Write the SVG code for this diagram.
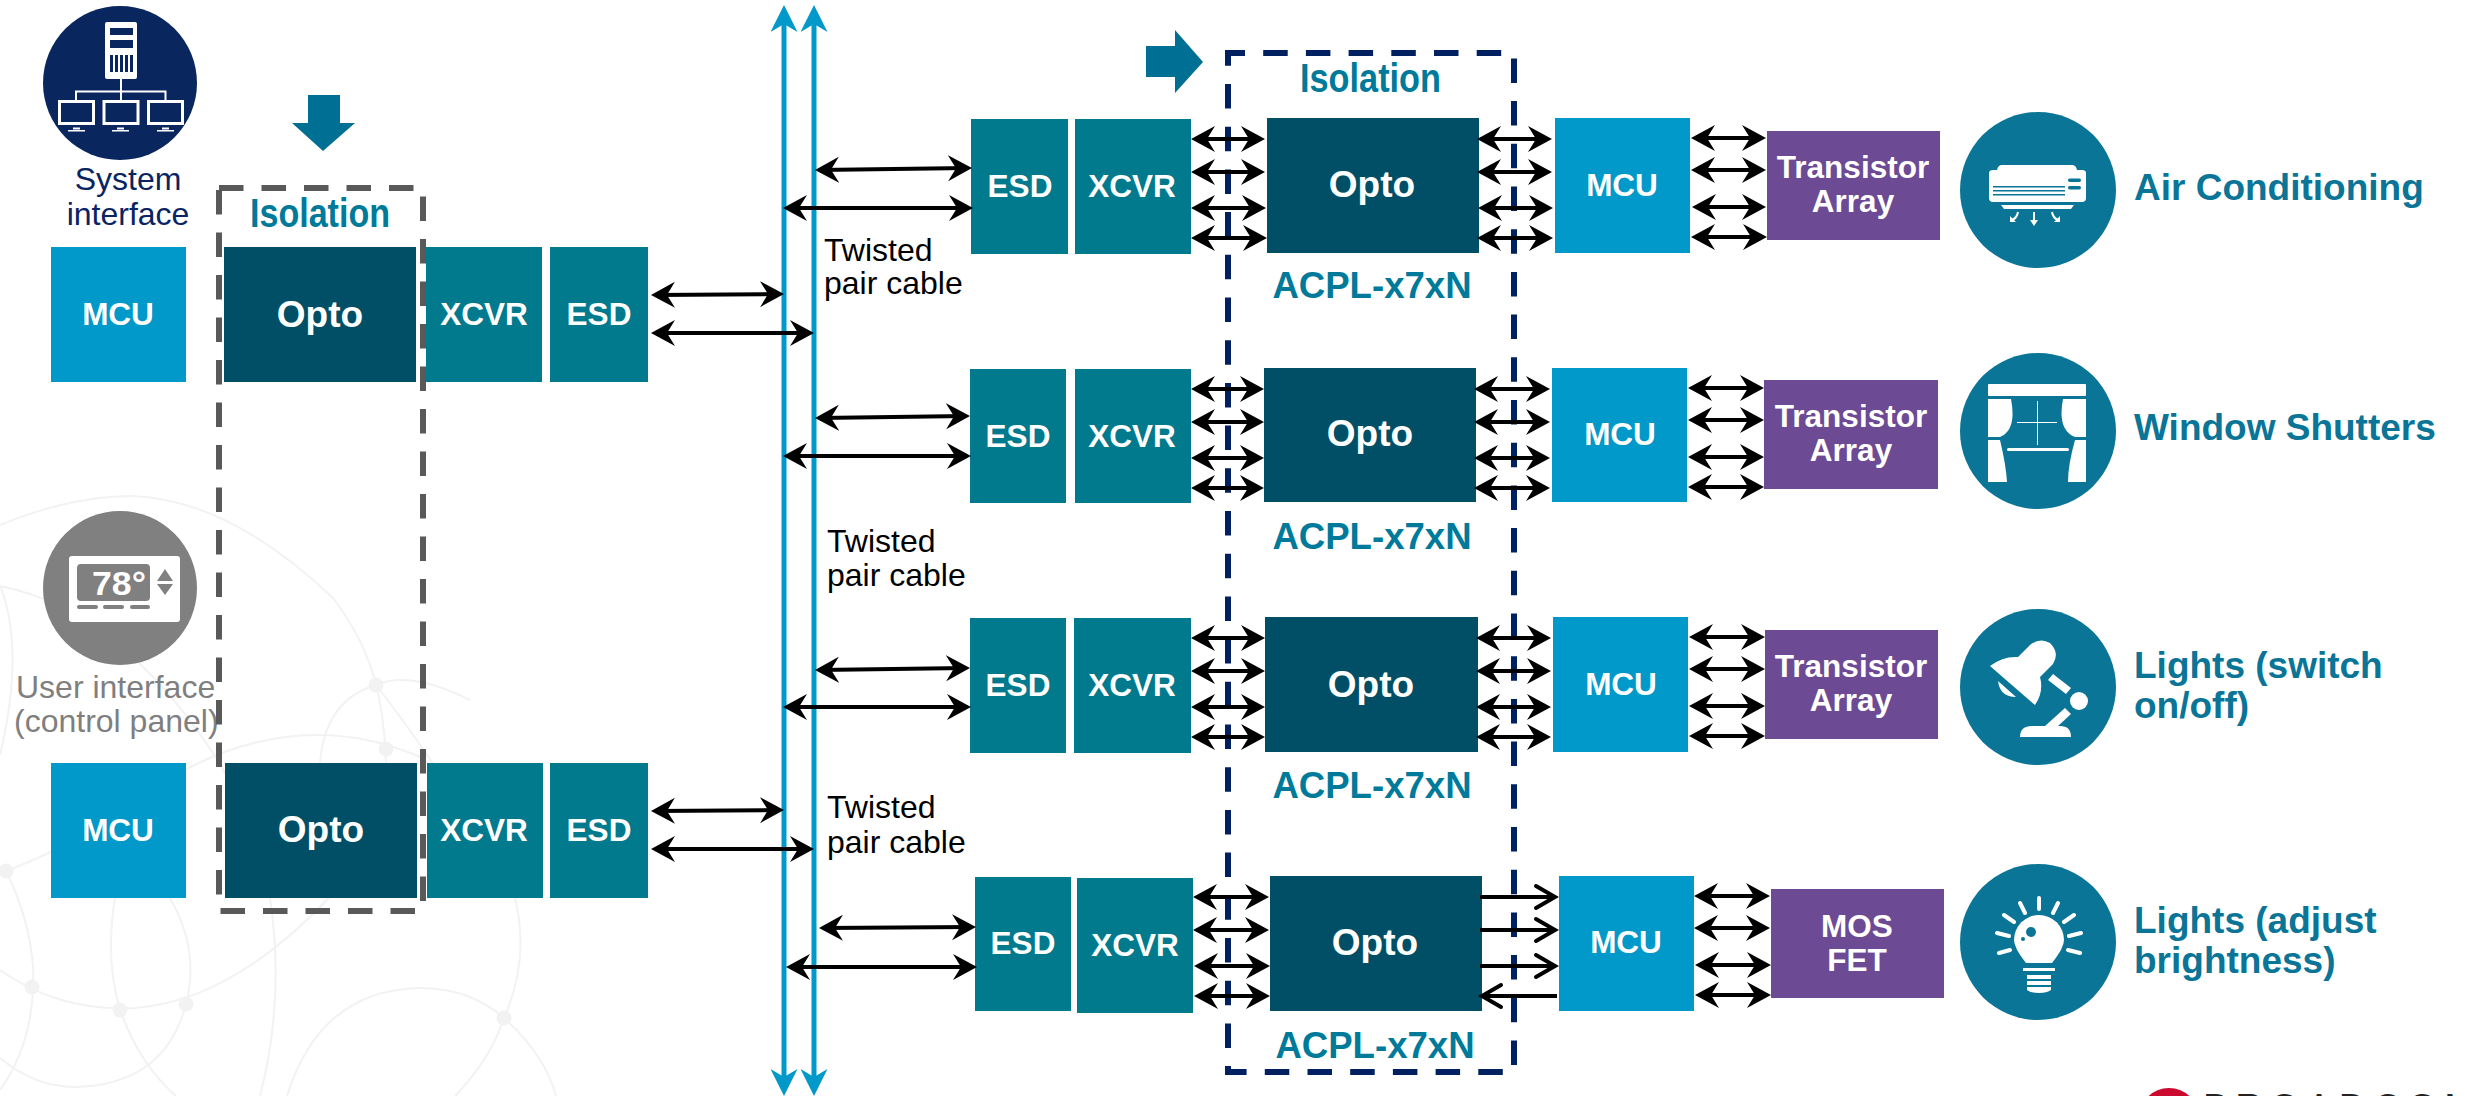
<svg xmlns="http://www.w3.org/2000/svg" width="2465" height="1096" viewBox="0 0 2465 1096">
<style>
text{font-family:"Liberation Sans",Arial,sans-serif}
.n{font-weight:700;fill:#fff;text-anchor:middle;font-size:31.5px}
.op{font-size:37px}
.mcu{fill:#0099c9}.tl{fill:#007a8c}.dk{fill:#004f66}.pu{fill:#6c4a94}
.hd{font-weight:700;fill:#0a7597;font-size:37px}
.ac{font-weight:700;fill:#007a9a;font-size:36.6px;text-anchor:middle}
.iso{font-weight:700;fill:#007a9a;font-size:40px}
.tw{fill:#000;font-size:32px}
.a{stroke:#000;stroke-width:4;fill:none;marker-start:url(#h);marker-end:url(#h)}
.o{stroke:#000;stroke-width:4;fill:none;marker-end:url(#v)}
.bus{stroke:#0099c9;stroke-width:5;fill:none;marker-start:url(#b);marker-end:url(#b)}
.bg{fill:none;stroke:#f2f2f2;stroke-width:2}
.ic{fill:#fff}
.ray{stroke:#fff;stroke-width:4;stroke-linecap:round;fill:none}
</style>
<defs>
<marker id="h" markerUnits="userSpaceOnUse" markerWidth="24" markerHeight="28" refX="20" refY="14" orient="auto-start-reverse"><path d="M24,14L0,1L8,14L0,27Z" fill="#000"/></marker>
<marker id="v" markerUnits="userSpaceOnUse" markerWidth="26" markerHeight="30" refX="22" refY="14" orient="auto"><path d="M3,3L22,14L3,25" fill="none" stroke="#000" stroke-width="4" stroke-linecap="round" stroke-linejoin="miter"/></marker>
<marker id="b" markerUnits="userSpaceOnUse" markerWidth="27" markerHeight="27" refX="20" refY="13.5" orient="auto-start-reverse"><path d="M27,13.5L0,0L8,13.5L0,27Z" fill="#0099c9"/></marker>
</defs>
<rect width="2465" height="1096" fill="#fff"/>
<g id="background">
<path class="bg" d="M0,525Q70,496 133,496Q230,500 333,598Q365,640 376,685Q450,780 515,898Q530,960 504,1018Q490,1060 455,1096"/>
<path class="bg" d="M376,685Q384,715 386,763M320,763Q325,700 376,685Q410,670 470,700"/>
<path class="bg" d="M6,871Q90,840 185,770Q250,735 317,735Q370,735 420,757"/>
<path class="bg" d="M0,586Q120,610 217,759Q260,830 270,898Q285,1000 260,1096"/>
<path class="bg" d="M0,585Q25,650 0,755"/>
<path class="bg" d="M6,871Q30,920 33,967Q36,1040 0,1090"/>
<path class="bg" d="M0,970Q60,1012 135,1008Q240,1000 345,880"/>
<path class="bg" d="M115,898Q105,960 120,1010Q140,1065 176,1096"/>
<path class="bg" d="M170,898Q200,950 186,1004Q165,1085 75,1087Q35,1087 0,1058"/>
<path class="bg" d="M287,1096Q320,990 420,988Q470,988 504,1018Q545,1055 556,1096"/>
<g fill="#f2f2f2"><circle cx="376" cy="685" r="7.500"/><circle cx="386" cy="749" r="7.500"/><circle cx="6" cy="871" r="7.500"/><circle cx="32" cy="987" r="7.500"/><circle cx="120" cy="1010" r="7.500"/><circle cx="186" cy="1004" r="7.500"/><circle cx="504" cy="1018" r="7.500"/></g>
</g>

<g id="logo"><circle cx="2169" cy="1118" r="30" fill="#cc0a2f"/><text x="2203" y="1121" font-size="38" letter-spacing="7" fill="#222">BROADCOM</text></g>

<g id="system-interface">
<circle cx="120" cy="83" r="77" fill="#09265f"/>
<rect class="ic" x="105" y="22" width="32" height="57" rx="2"/>
<g fill="#09265f"><rect x="110" y="28" width="23" height="7"/><rect x="110" y="40" width="23" height="8"/><rect x="110" y="55" width="3" height="17"/><rect x="115" y="55" width="3" height="17"/><rect x="120" y="55" width="3" height="17"/><rect x="125" y="55" width="3" height="17"/><rect x="130" y="55" width="3" height="17"/></g>
<path d="M121,79V100M76,100V91.500H165.500V100" stroke="#fff" stroke-width="2" fill="none"/>
<g fill="none" stroke="#fff" stroke-width="3"><rect x="59.500" y="101.500" width="34" height="22"/><rect x="104" y="101.500" width="34" height="22"/><rect x="148.500" y="101.500" width="34" height="22"/></g>
<g class="ic"><rect x="68" y="130" width="17" height="1.500"/><rect x="73" y="127.500" width="7" height="2"/><rect x="112" y="130" width="17" height="1.500"/><rect x="117" y="127.500" width="7" height="2"/><rect x="157" y="130" width="17" height="1.500"/><rect x="162" y="127.500" width="7" height="2"/></g>
<text x="128" y="190" font-size="32" text-anchor="middle" fill="#0a2463">System</text>
<text x="128" y="225" font-size="32" text-anchor="middle" fill="#0a2463">interface</text>
</g>

<g id="user-interface">
<circle cx="120" cy="588" r="77" fill="#808080"/>
<rect class="ic" x="69" y="556" width="111" height="66" rx="3"/>
<rect x="77" y="564" width="73" height="37" rx="4" fill="#808080"/>
<text x="92" y="595" font-size="34" font-weight="700" fill="#fff" textLength="54" lengthAdjust="spacingAndGlyphs">78°</text>
<path d="M165,569L173,581H157ZM165,595L173,584H157Z" fill="#808080"/>
<g fill="#808080"><rect x="77" y="605" width="21" height="4" rx="2"/><rect x="103" y="605" width="21" height="4" rx="2"/><rect x="130" y="605" width="20" height="4" rx="2"/></g>
<text x="16" y="698" font-size="32" fill="#7f7f7f">User interface</text>
<text x="14" y="732" font-size="32" fill="#7f7f7f">(control panel)</text>
</g>

<g id="down-arrow"><path d="M308,95H340V123H355L323,151L292,123H308Z" fill="#006f94"/></g>
<g id="right-arrow"><path d="M1146,46H1175V30L1203,62L1175,93V77H1146Z" fill="#006f94"/></g>

<g id="left-row-1">
<rect class="mcu" x="51" y="247" width="135" height="135"/><text class="n" x="118" y="325">MCU</text>
<rect class="dk" x="224" y="247" width="192" height="135"/><text class="n op" x="320" y="327">Opto</text>
<rect class="tl" x="426" y="247" width="116" height="135"/><text class="n" x="484" y="325">XCVR</text>
<rect class="tl" x="550" y="247" width="98" height="135"/><text class="n" x="599" y="325">ESD</text>
</g>
<g id="left-row-2">
<rect class="mcu" x="51" y="763" width="135" height="135"/><text class="n" x="118" y="841">MCU</text>
<rect class="dk" x="225" y="763" width="192" height="135"/><text class="n op" x="321" y="842">Opto</text>
<rect class="tl" x="427" y="763" width="116" height="135"/><text class="n" x="484" y="841">XCVR</text>
<rect class="tl" x="550" y="763" width="98" height="135"/><text class="n" x="599" y="841">ESD</text>
</g>
<g id="isolation-left">
<path d="M219,188H423V911H219Z" fill="none" stroke="#595959" stroke-width="6" stroke-dasharray="24.500 18"/>
<text class="iso" x="250" y="227" textLength="140" lengthAdjust="spacingAndGlyphs">Isolation</text>
</g>

<g id="row-1">
<rect class="tl" x="971" y="119" width="97" height="135"/><text class="n" x="1020" y="197">ESD</text>
<rect class="tl" x="1075" y="119" width="116" height="135"/><text class="n" x="1132" y="197">XCVR</text>
<rect class="dk" x="1267" y="118" width="212" height="135"/><text class="n op" x="1372" y="197">Opto</text>
<rect class="mcu" x="1555" y="118" width="135" height="135"/><text class="n" x="1622" y="196">MCU</text>
<rect class="pu" x="1767" y="131" width="173" height="109"/><text class="n" x="1853" y="178">Transistor</text><text class="n" x="1853" y="212">Array</text>
<text class="ac" x="1372" y="298">ACPL-x7xN</text>
<circle cx="2038" cy="190" r="78" fill="#0a7597"/>
<path class="ic" d="M1989,173Q1989,170 1993,170H1997Q1998,165 2002,165H2072Q2076,165 2077,170H2082Q2086,170 2086,173V198Q2086,202 2082,202H1993Q1989,202 1989,198Z"/>
<g fill="#0a7597"><rect x="1993" y="186" width="72" height="1.500"/><rect x="1993" y="190" width="72" height="1.500"/><rect x="1993" y="194" width="72" height="1.500"/><rect x="2068" y="178.500" width="13" height="3.500" rx="1.700"/><rect x="2068" y="186" width="13" height="3.500" rx="1.700"/></g>
<path class="ic" d="M2001,205H2074L2071,209H2004Z"/>
<path d="M2034,212V222M2018,212Q2017,218 2012,220M2052,212Q2053,218 2058,220" stroke="#fff" stroke-width="2" fill="none"/>
<path class="ic" d="M2030,220H2038L2034,226ZM2010,216L2016,222H2010ZM2060,216V222H2054Z"/>
<text class="hd" x="2134" y="200">Air Conditioning</text>
</g>

<g id="row-2">
<rect class="tl" x="970" y="369" width="96" height="134"/><text class="n" x="1018" y="447">ESD</text>
<rect class="tl" x="1075" y="369" width="116" height="134"/><text class="n" x="1132" y="447">XCVR</text>
<rect class="dk" x="1264" y="368" width="212" height="134"/><text class="n op" x="1370" y="446">Opto</text>
<rect class="mcu" x="1552" y="368" width="135" height="134"/><text class="n" x="1620" y="445">MCU</text>
<rect class="pu" x="1764" y="380" width="174" height="109"/><text class="n" x="1851" y="427">Transistor</text><text class="n" x="1851" y="461">Array</text>
<text class="ac" x="1372" y="549">ACPL-x7xN</text>
<circle cx="2038" cy="431" r="78" fill="#0a7597"/>
<rect class="ic" x="1988" y="384" width="98" height="12" rx="1"/>
<path class="ic" d="M1988,399H2011Q2017,430 2000,437H1988ZM2086,399H2063Q2057,430 2075,437H2086ZM1988,440H2000Q2006,465 2007,482H1988ZM2086,440H2075Q2068,465 2068,482H2086Z"/>
<rect class="ic" x="2017" y="422" width="40" height="1"/><rect class="ic" x="2037" y="401" width="1" height="44"/><rect class="ic" x="2007" y="448" width="62" height="3" rx="1.500"/>
<text class="hd" x="2134" y="440">Window Shutters</text>
</g>

<g id="row-3">
<rect class="tl" x="970" y="618" width="96" height="135"/><text class="n" x="1018" y="696">ESD</text>
<rect class="tl" x="1074" y="618" width="117" height="135"/><text class="n" x="1132" y="696">XCVR</text>
<rect class="dk" x="1265" y="617" width="213" height="135"/><text class="n op" x="1371" y="697">Opto</text>
<rect class="mcu" x="1553" y="617" width="135" height="135"/><text class="n" x="1621" y="695">MCU</text>
<rect class="pu" x="1765" y="630" width="173" height="109"/><text class="n" x="1851" y="677">Transistor</text><text class="n" x="1851" y="711">Array</text>
<text class="ac" x="1372" y="798">ACPL-x7xN</text>
<circle cx="2038" cy="687" r="78" fill="#0a7597"/>
<path class="ic" d="M1990,666Q2003,656 2018,657L2030,645Q2040,637 2050,643Q2060,653 2053,664L2040,677Q2044,692 2035,705ZM1998,681L2016,697Q2000,697 1998,681ZM2053,674L2071,688L2066,694L2048,680ZM2065,708L2071,714L2058,726H2045ZM2020,737Q2020,726 2032,726H2060Q2071,726 2071,737Z"/>
<circle class="ic" cx="2079" cy="701" r="9"/>
<text class="hd" x="2134" y="678">Lights (switch</text><text class="hd" x="2134" y="718">on/off)</text>
</g>

<g id="row-4">
<rect class="tl" x="975" y="877" width="96" height="134"/><text class="n" x="1023" y="954">ESD</text>
<rect class="tl" x="1077" y="878" width="116" height="135"/><text class="n" x="1135" y="956">XCVR</text>
<rect class="dk" x="1270" y="876" width="212" height="135"/><text class="n op" x="1375" y="955">Opto</text>
<rect class="mcu" x="1559" y="876" width="135" height="135"/><text class="n" x="1626" y="953">MCU</text>
<rect class="pu" x="1771" y="889" width="173" height="109"/><text class="n" x="1857" y="937">MOS</text><text class="n" x="1857" y="971">FET</text>
<text class="ac" x="1375" y="1058">ACPL-x7xN</text>
<circle cx="2038" cy="942" r="78" fill="#0a7597"/>
<path class="ic" d="M2026,963Q2014,948 2014,940A25,25 0 1 1 2064,940Q2064,948 2052,963Z"/>
<circle cx="2031" cy="932" r="5" fill="#0a7597"/><circle cx="2023" cy="939" r="2" fill="#0a7597"/>
<path class="ic" d="M2023,968H2055V971H2023ZM2027,975H2051V979H2027ZM2027,981H2051V985H2027ZM2027,987H2051V990Q2047,993 2039,993Q2031,993 2027,990Z"/>
<path class="ray" d="M2039,898V909M2020,903L2025,913M2058,903L2053,913M2004,915L2014,922M2074,915L2064,922M1997,933L2009,936M2081,933L2069,936M1999,953L2010,950M2080,953L2068,950"/>
<text class="hd" x="2134" y="933">Lights (adjust</text><text class="hd" x="2134" y="973">brightness)</text>
</g>

<g id="isolation-right">
<path d="M1228,53H1514V1072H1228Z" fill="none" stroke="#002060" stroke-width="6" stroke-dasharray="24.500 18.200" stroke-dashoffset="7.500"/>
<text class="iso" x="1300" y="92" textLength="141" lengthAdjust="spacingAndGlyphs">Isolation</text>
</g>

<g id="labels">
<text class="tw" x="824" y="261">Twisted</text><text class="tw" x="824" y="294">pair cable</text>
<text class="tw" x="827" y="552">Twisted</text><text class="tw" x="827" y="586">pair cable</text>
<text class="tw" x="827" y="818">Twisted</text><text class="tw" x="827" y="853">pair cable</text>
</g>

<g id="connectors">
<path class="bus" d="M784,12V1089"/>
<path class="bus" d="M814,12V1089"/>
<path class="a" d="M655,295L780,294"/><path class="a" d="M655,333H810"/>
<path class="a" d="M655,811L780,810"/><path class="a" d="M655,849H810"/>
<path class="a" d="M819,170L968,168"/><path class="a" d="M787,208H969"/>
<path class="a" d="M819,418L966,416"/><path class="a" d="M787,456H967"/>
<path class="a" d="M819,670L966,668"/><path class="a" d="M787,707H967"/>
<path class="a" d="M823,928L972,927"/><path class="a" d="M790,967H973"/>

<path class="a" d="M1195,139H1261"/><path class="a" d="M1195,172H1261"/><path class="a" d="M1195,208H1262"/><path class="a" d="M1195,238H1263"/>
<path class="a" d="M1481,139H1548"/><path class="a" d="M1481,172H1548"/><path class="a" d="M1482,208H1549"/><path class="a" d="M1481,238H1549"/>
<path class="a" d="M1695,138H1762"/><path class="a" d="M1695,170H1762"/><path class="a" d="M1696,207H1762"/><path class="a" d="M1695,237H1763"/>

<path class="a" d="M1195,389H1260"/><path class="a" d="M1195,422H1260"/><path class="a" d="M1195,458H1260"/><path class="a" d="M1195,488H1260"/>
<path class="a" d="M1478,389H1546"/><path class="a" d="M1478,422H1546"/><path class="a" d="M1478,458H1546"/><path class="a" d="M1478,488H1546"/>
<path class="a" d="M1692,388H1760"/><path class="a" d="M1692,420H1760"/><path class="a" d="M1692,457H1760"/><path class="a" d="M1692,487H1760"/>

<path class="a" d="M1195,638H1261"/><path class="a" d="M1195,671H1261"/><path class="a" d="M1195,707H1261"/><path class="a" d="M1195,737H1261"/>
<path class="a" d="M1480,638H1547"/><path class="a" d="M1480,671H1547"/><path class="a" d="M1480,707H1547"/><path class="a" d="M1480,737H1547"/>
<path class="a" d="M1693,637H1761"/><path class="a" d="M1693,669H1761"/><path class="a" d="M1693,706H1761"/><path class="a" d="M1693,736H1761"/>

<path class="a" d="M1197,897H1265"/><path class="a" d="M1197,930H1265"/><path class="a" d="M1198,966H1266"/><path class="a" d="M1198,996H1266"/>
<path class="o" d="M1480,897H1555"/><path class="o" d="M1480,930H1555"/><path class="o" d="M1480,966H1555"/><path class="o" d="M1557,996H1482"/>
<path class="a" d="M1698,896H1766"/><path class="a" d="M1698,928H1766"/><path class="a" d="M1699,965H1767"/><path class="a" d="M1699,995H1767"/>
</g>
</svg>
